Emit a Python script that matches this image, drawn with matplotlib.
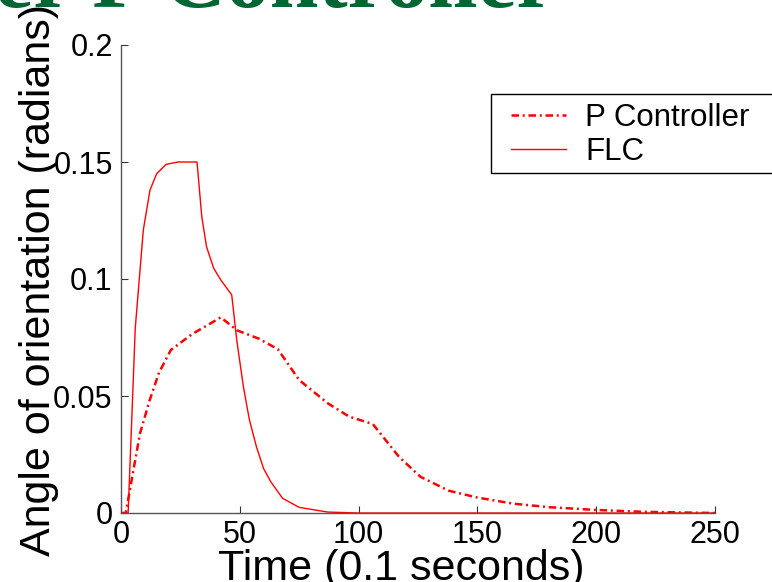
import matplotlib
matplotlib.use("Agg")
import matplotlib.pyplot as plt
from matplotlib.patches import Rectangle

# values
p_time = [0, 2, 8, 12, 16, 21, 30, 42, 49, 58, 66, 75, 87, 96, 106, 117, 126, 138, 150, 165, 180, 200, 220, 250]
p_angle = [0, 0, 0.034, 0.048, 0.060, 0.0697, 0.0765, 0.0836, 0.078, 0.0745, 0.070, 0.0568, 0.0469, 0.0412,
           0.038, 0.024, 0.0155, 0.0095, 0.0066, 0.004, 0.0025, 0.0013, 0.0005, 0.0]

flc_time = [0, 3, 6, 9.4, 12.2, 15, 19, 24, 32, 34, 36, 39, 42, 46.6, 48.7, 51.5, 54, 57, 60, 63, 68, 75, 87, 100, 250]
flc_angle = [0, 0, 0.079, 0.121, 0.138, 0.145, 0.149, 0.150, 0.150, 0.1266, 0.1138, 0.1046, 0.0996, 0.0932,
             0.074, 0.054, 0.040, 0.0283, 0.019, 0.0134, 0.0063, 0.0024, 0.0004, 0, 0]

x_ticks = [0, 50, 100, 150, 200, 250]
y_ticks = [0, 0.05, 0.1, 0.15, 0.2]
y_ticklabels = ["0", "0.05", "0.1", "0.15", "0.2"]

plt.rcParams["font.family"] = ["Liberation Sans", "DejaVu Sans"]

W, H = 772, 582
fig = plt.figure(figsize=(W / 100, H / 100), dpi=100)
fig.patch.set_facecolor("white")

# axes box in pixels: left 121, right 715, top 45, bottom 513
ax = fig.add_axes([121 / W, 1 - 513 / H, (715 - 121) / W, (513 - 45) / H])

ax.plot(p_time, p_angle, color="red", lw=1.8, linestyle=(0, (3, 1.5, 0.8, 1.5)), label="P Controller")
ax.plot(flc_time, flc_angle, color="red", lw=1.0, label="FLC")

ax.set_xlim(0, 250)
ax.set_ylim(0, 0.2)
ax.set_xticks(x_ticks)
ax.set_yticks(y_ticks)
ax.set_yticklabels(y_ticklabels)
ax.tick_params(direction="in", length=5, width=0.8, labelsize=22, color="#333333")
ax.tick_params(axis="y", pad=6)
ax.tick_params(axis="x", pad=5)

for s in ["top", "right"]:
    ax.spines[s].set_visible(False)
for s in ["left", "bottom"]:
    ax.spines[s].set_color("#555555")
    ax.spines[s].set_linewidth(1.0)

# legend box runs past the right edge of the slide crop
box = Rectangle((491 / W, 1 - 173 / H), 300 / W, 79 / H, transform=fig.transFigure,
                facecolor="white", edgecolor="black", lw=1.0, zorder=4, clip_on=False)
ax.add_patch(box)
leg = ax.legend(loc="upper left", bbox_to_anchor=(511 / W, 1 - 103 / H), bbox_transform=fig.transFigure,
                fontsize=22.5, frameon=False, handlelength=1.75, handletextpad=0.62,
                borderpad=0, labelspacing=0.12, borderaxespad=0)
leg.set_zorder(5)

# axis labels, placed where the slide put them
fig.text(39 / W, 1 - 280 / H, "Angle of orientation (radians)", rotation=90, fontsize=31,
         ha="center", va="center")
fig.text(401 / W, 1 - 580 / H, "Time (0.1 seconds)", fontsize=31, ha="center", va="baseline")

# slide title, mostly cut off above the picture
fig.text(555 / W, 1 - 7 / H, "FLC over P Controller", fontsize=63, fontweight="bold",
         family=["Liberation Serif", "DejaVu Serif"], color="#006633", ha="right", va="baseline")

fig.savefig("out.png", dpi=100)
